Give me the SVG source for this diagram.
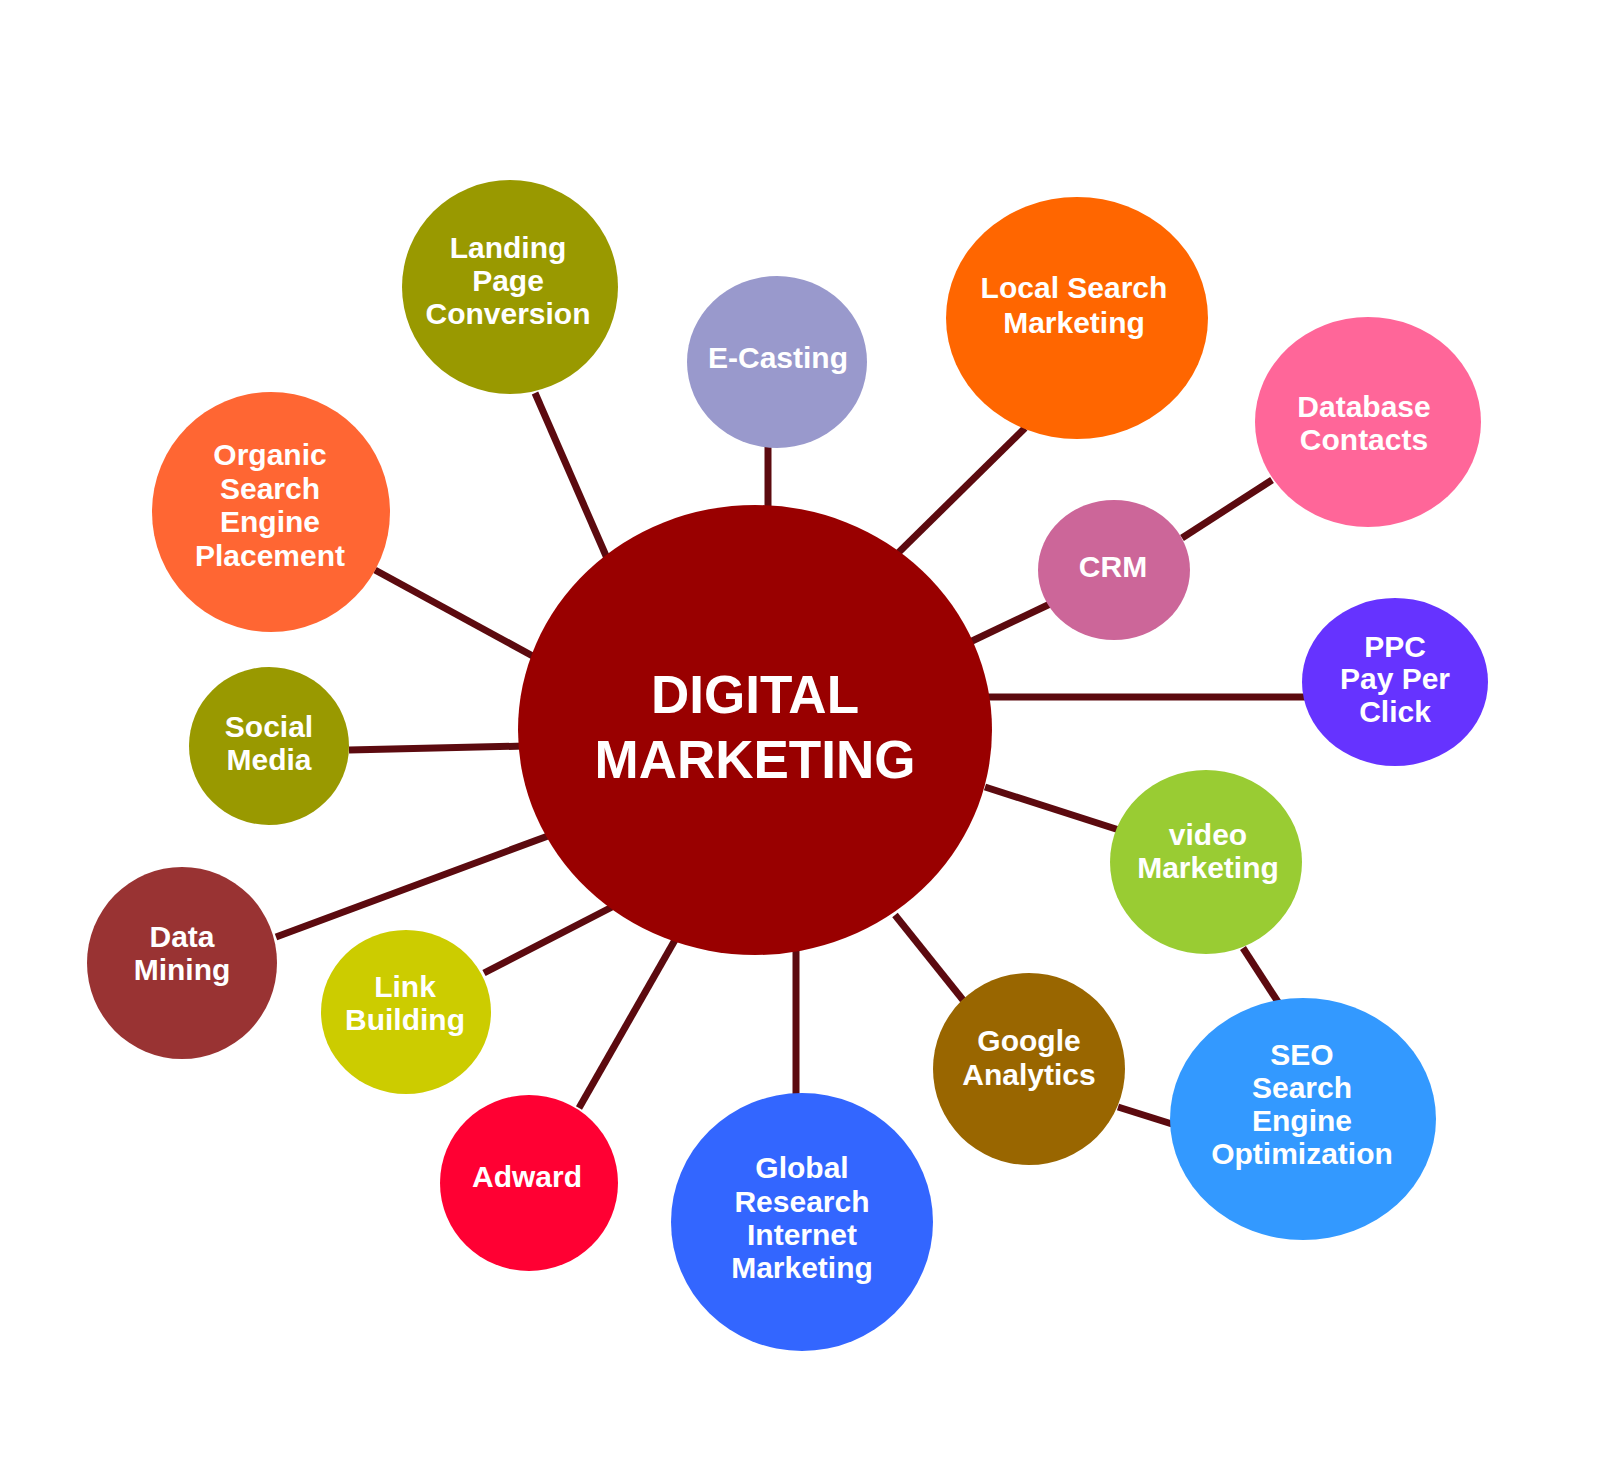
<svg xmlns="http://www.w3.org/2000/svg" width="1600" height="1471" viewBox="0 0 1600 1471">
<style>
.c line{stroke:#5c0a0f;stroke-width:7;stroke-linecap:butt}
.t{font-family:"Liberation Sans",Arial,sans-serif;font-weight:700;font-size:30px;fill:#ffffff;text-anchor:middle}
.h{font-family:"Liberation Sans",Arial,sans-serif;font-weight:700;font-size:53px;fill:#ffffff;text-anchor:middle}
</style>
<rect width="1600" height="1471" fill="#ffffff"/>
<g id="connectors" class="c">
<line x1="535" y1="393" x2="610" y2="565"/>
<line x1="768" y1="440" x2="768" y2="515"/>
<line x1="1025" y1="428" x2="895" y2="556"/>
<line x1="1050" y1="604" x2="970" y2="642"/>
<line x1="1182" y1="538" x2="1272" y2="480"/>
<line x1="985" y1="697" x2="1306" y2="697"/>
<line x1="985" y1="787" x2="1119" y2="830"/>
<line x1="1243" y1="948" x2="1278" y2="1002"/>
<line x1="895" y1="915" x2="963" y2="1000"/>
<line x1="1118" y1="1107" x2="1172" y2="1124"/>
<line x1="796" y1="950" x2="796" y2="1097"/>
<line x1="675" y1="940" x2="579" y2="1108"/>
<line x1="612" y1="907" x2="484" y2="973"/>
<line x1="548" y1="836" x2="276" y2="937"/>
<line x1="349" y1="750" x2="525" y2="746"/>
<line x1="375" y1="570" x2="540" y2="660"/>
</g>
<g id="hub">
<ellipse cx="755" cy="730" rx="237" ry="225" fill="#990000"/>
<text class="h" x="755" y="713">DIGITAL</text>
<text class="h" x="755" y="778">MARKETING</text>
</g>
<g id="landing">
<ellipse cx="510" cy="287" rx="108" ry="107" fill="#999900"/>
<text class="t" x="508" y="258">Landing</text>
<text class="t" x="508" y="291">Page</text>
<text class="t" x="508" y="324">Conversion</text>
</g>
<g id="ecasting">
<ellipse cx="777" cy="362" rx="90" ry="86" fill="#9999cc"/>
<text class="t" x="778" y="368">E-Casting</text>
</g>
<g id="localsearch">
<ellipse cx="1077" cy="318" rx="131" ry="121" fill="#ff6600"/>
<text class="t" x="1074" y="298">Local Search</text>
<text class="t" x="1074" y="333">Marketing</text>
</g>
<g id="database">
<ellipse cx="1368" cy="422" rx="113" ry="105" fill="#ff6699"/>
<text class="t" x="1364" y="417">Database</text>
<text class="t" x="1364" y="450">Contacts</text>
</g>
<g id="crm">
<ellipse cx="1114" cy="570" rx="76" ry="70" fill="#cc6699"/>
<text class="t" x="1113" y="577">CRM</text>
</g>
<g id="ppc">
<ellipse cx="1395" cy="682" rx="93" ry="84" fill="#6633ff"/>
<text class="t" x="1395" y="657">PPC</text>
<text class="t" x="1395" y="689">Pay Per</text>
<text class="t" x="1395" y="722">Click</text>
</g>
<g id="video">
<ellipse cx="1206" cy="862" rx="96" ry="92" fill="#99cc33"/>
<text class="t" x="1208" y="845">video</text>
<text class="t" x="1208" y="878">Marketing</text>
</g>
<g id="seo">
<ellipse cx="1303" cy="1119" rx="133" ry="121" fill="#3399ff"/>
<text class="t" x="1302" y="1065">SEO</text>
<text class="t" x="1302" y="1098">Search</text>
<text class="t" x="1302" y="1131">Engine</text>
<text class="t" x="1302" y="1164">Optimization</text>
</g>
<g id="google">
<ellipse cx="1029" cy="1069" rx="96" ry="96" fill="#996600"/>
<text class="t" x="1029" y="1051">Google</text>
<text class="t" x="1029" y="1085">Analytics</text>
</g>
<g id="global">
<ellipse cx="802" cy="1222" rx="131" ry="129" fill="#3366ff"/>
<text class="t" x="802" y="1178">Global</text>
<text class="t" x="802" y="1212">Research</text>
<text class="t" x="802" y="1245">Internet</text>
<text class="t" x="802" y="1278">Marketing</text>
</g>
<g id="adward">
<ellipse cx="529" cy="1183" rx="89" ry="88" fill="#ff0033"/>
<text class="t" x="527" y="1187">Adward</text>
</g>
<g id="link">
<ellipse cx="406" cy="1012" rx="85" ry="82" fill="#cccc00"/>
<text class="t" x="405" y="997">Link</text>
<text class="t" x="405" y="1030">Building</text>
</g>
<g id="datamining">
<ellipse cx="182" cy="963" rx="95" ry="96" fill="#993333"/>
<text class="t" x="182" y="947">Data</text>
<text class="t" x="182" y="980">Mining</text>
</g>
<g id="social">
<ellipse cx="269" cy="746" rx="80" ry="79" fill="#999900"/>
<text class="t" x="269" y="737">Social</text>
<text class="t" x="269" y="770">Media</text>
</g>
<g id="organic">
<ellipse cx="271" cy="512" rx="119" ry="120" fill="#ff6633"/>
<text class="t" x="270" y="465">Organic</text>
<text class="t" x="270" y="499">Search</text>
<text class="t" x="270" y="532">Engine</text>
<text class="t" x="270" y="566">Placement</text>
</g>
</svg>
